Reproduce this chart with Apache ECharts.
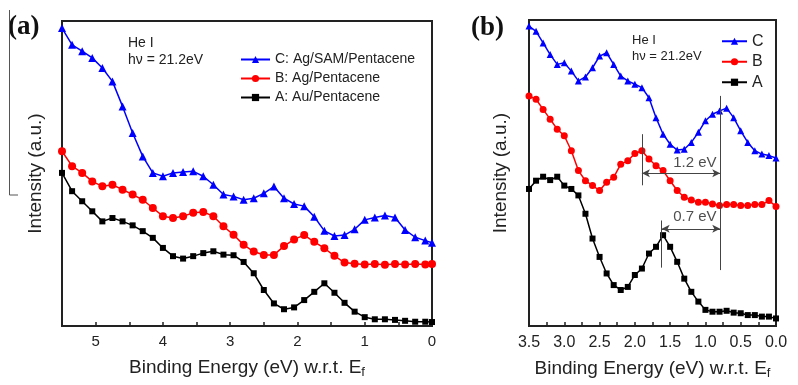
<!DOCTYPE html>
<html>
<head>
<meta charset="utf-8">
<script src="https://cdn.jsdelivr.net/npm/echarts@6/dist/echarts.min.js"></script>
<style>
  html, body { margin: 0; padding: 0; background: #fff; }
  #chart { width: 798px; height: 385px; }
</style>
</head>
<body>
<div id="chart"></div>
<script>
// panel (a): binding energy grid (eV) and the three spectra (a.u.)
const energyA = [5.5, 5.35, 5.2, 5.05, 4.9, 4.75, 4.6, 4.45, 4.3, 4.15, 4.0, 3.85, 3.7, 3.55, 3.4, 3.25, 3.1, 2.95, 2.8, 2.65,
  2.5, 2.35, 2.2, 2.05, 1.9, 1.75, 1.6, 1.45, 1.3, 1.15, 1.0, 0.85, 0.7, 0.55, 0.4, 0.25, 0.1, 0.0];
const specCA = [97.7, 92.2, 90.1, 87.9, 84.6, 80.2, 72.0, 63.3, 55.6, 50.2, 49.1, 50.2, 50.5, 50.7, 49.1, 46.3, 43.1, 42.5, 41.4, 41.9,
  43.5, 45.7, 41.9, 40.0, 39.3, 35.8, 31.2, 29.5, 29.8, 31.7, 34.8, 35.6, 36.2, 35.6, 31.5, 29.1, 28.0, 27.3];
const specBA = [57.3, 52.4, 50.2, 47.4, 45.8, 46.3, 44.7, 43.1, 41.4, 38.7, 36.0, 35.4, 36.0, 37.1, 37.4, 36.0, 32.7, 29.9, 26.6, 24.4,
  23.3, 23.3, 26.2, 28.4, 29.8, 27.6, 25.5, 23.0, 20.8, 20.4, 20.2, 20.3, 20.1, 20.3, 20.2, 20.3, 20.2, 20.3];
const specAA = [50.2, 44.2, 40.9, 37.6, 34.3, 35.4, 34.3, 33.0, 31.1, 28.9, 25.6, 22.9, 22.1, 22.9, 23.9, 24.5, 23.4, 23.2, 21.0, 17.3,
  11.8, 7.4, 5.5, 6.1, 8.5, 11.2, 14.0, 10.9, 7.6, 4.7, 2.9, 2.2, 2.2, 2.0, 1.7, 1.4, 1.4, 1.3];

// panel (b): zoom near the Fermi level
const energyB = [3.5, 3.4, 3.3, 3.2, 3.1, 3.0, 2.9, 2.8, 2.7, 2.6, 2.5, 2.4, 2.3, 2.2, 2.1, 2.0, 1.9, 1.8, 1.7, 1.6,
  1.5, 1.4, 1.3, 1.2, 1.1, 1.0, 0.9, 0.8, 0.7, 0.6, 0.5, 0.4, 0.3, 0.2, 0.1, 0.0];
const specCB = [98.0, 96.3, 92.5, 88.7, 85.5, 86.0, 83.3, 80.1, 81.4, 84.4, 88.2, 89.3, 85.5, 81.7, 80.1, 79.0, 77.9, 74.6, 68.1, 62.7,
  59.4, 57.5, 57.8, 60.0, 63.3, 67.1, 69.2, 70.3, 71.2, 68.1, 63.8, 60.0, 57.3, 56.2, 55.7, 54.9];
const specBB = [75.2, 74.1, 70.8, 67.6, 64.3, 62.2, 57.3, 50.8, 47.5, 45.9, 44.3, 47.0, 48.6, 52.9, 54.0, 56.4, 57.3, 54.6, 52.4, 50.8,
  47.5, 44.3, 42.1, 41.2, 40.5, 40.5, 39.9, 39.4, 39.7, 39.7, 39.4, 39.4, 39.7, 39.7, 41.0, 39.1];
const specAB = [44.8, 47.5, 48.8, 47.7, 48.8, 45.9, 44.8, 42.7, 36.7, 28.6, 22.6, 17.2, 13.4, 11.8, 12.8, 16.7, 18.8, 23.7, 25.9, 29.7,
  25.9, 21.0, 15.5, 11.2, 8.0, 5.3, 4.7, 4.7, 5.0, 4.4, 4.2, 3.6, 3.6, 3.1, 3.1, 2.5];

// peak markers in (b): [energy, top, bottom]
const peakLines = [[1.9, 62.7, 46.0], [0.79, 75.2, 18.3], [1.62, 34.5, 19.1]];
// shift arrows: [from, to, level]
const shiftArrows = [[1.9, 0.79, 49.9], [1.62, 0.79, 31.8]];
const shiftLabels = ['1.2 eV', '0.7 eV'];
const shiftLabelPos = [[1.15, 53.3], [1.15, 35.6]];

const FONT = 'Liberation Sans';
const INK = '#222';

const pairs = (xs, ys) => xs.map((x, i) => [x, ys[i]]);

function spectrum(name, xs, ys, axis, color, symbol, size) {
  return {
    name,
    type: 'line',
    xAxisIndex: axis,
    yAxisIndex: axis,
    data: pairs(xs, ys),
    symbol,
    symbolSize: size,
    showAllSymbol: true,
    itemStyle: { color },
    lineStyle: { color, width: 1.5 },
    z: 3
  };
}

function energyAxis(idx, max, interval, fmt, fontSize) {
  return {
    type: 'value',
    gridIndex: idx,
    inverse: true,
    min: 0,
    max,
    interval,
    name: '{m|Binding Energy (eV) w.r.t. E}{s|f}',
    nameLocation: 'middle',
    nameGap: 27,
    nameTextStyle: {
      rich: {
        m: { fontFamily: FONT, fontSize: 19, color: INK, lineHeight: 22 },
        s: { fontFamily: FONT, fontSize: 13, color: INK, lineHeight: 22, padding: [12, 0, 0, 0], verticalAlign: 'bottom' }
      }
    },
    axisLine: { show: true, lineStyle: { color: INK, width: 2 } },
    axisTick: { show: true, inside: true, length: 4, lineStyle: { color: INK, width: 1.5 } },
    axisLabel: { margin: 8, fontFamily: FONT, fontSize, color: INK, formatter: fmt, showMinLabel: true, showMaxLabel: true },
    splitLine: { show: false }
  };
}

function intensityAxis(idx, gap) {
  return {
    type: 'value',
    gridIndex: idx,
    min: 0,
    max: 100,
    name: 'Intensity (a.u.)',
    nameLocation: 'middle',
    nameGap: gap,
    nameTextStyle: { fontFamily: FONT, fontSize: 19, color: INK },
    axisLine: { show: false },
    axisTick: { show: false },
    axisLabel: { show: false },
    splitLine: { show: false }
  };
}

const option = {
  animation: false,
  backgroundColor: '#fff',
  grid: [
    { left: 62, top: 21, width: 370, height: 305, show: true, borderColor: INK, borderWidth: 2 },
    { left: 529, top: 20, width: 247, height: 307, show: true, borderColor: INK, borderWidth: 2 }
  ],
  xAxis: [
    energyAxis(0, 5.5, 0.5, v => (Number.isInteger(v) ? String(v) : ''), 15),
    energyAxis(1, 3.5, 0.25, v => ((v * 2) % 1 === 0 ? v.toFixed(1) : ''), 16)
  ],
  yAxis: [intensityAxis(0, 17), intensityAxis(1, 19)],
  legend: [
    {
      left: 235, top: 45, orient: 'vertical',
      itemWidth: 29, itemHeight: 9, itemGap: 0,
      textStyle: { fontFamily: FONT, fontSize: 14, color: INK, lineHeight: 19 },
      data: ['C: Ag/SAM/Pentacene', 'B: Ag/Pentacene', 'A: Au/Pentacene']
    },
    {
      left: 716, top: 26, orient: 'vertical',
      itemWidth: 25, itemHeight: 9, itemGap: 0,
      textStyle: { fontFamily: FONT, fontSize: 16, color: INK, lineHeight: 20.5 },
      data: ['C', 'B', 'A']
    }
  ],
  graphic: [
    { type: 'text', left: 8, top: 14, style: { text: '(a)', font: 'bold 27px "Liberation Serif"', fill: '#111' } },
    { type: 'text', left: 471, top: 15, style: { text: '(b)', font: 'bold 27px "Liberation Serif"', fill: '#111' } },
    { type: 'text', left: 128, top: 35, style: { text: 'He I\nhν = 21.2eV', font: '14px "Liberation Sans"', fill: INK, lineHeight: 17 } },
    { type: 'text', left: 632, top: 32, style: { text: 'He I\nhν = 21.2eV', font: '13px "Liberation Sans"', fill: INK, lineHeight: 16 } },
    { type: 'line', shape: { x1: 9.5, y1: 10, x2: 9.5, y2: 195 }, style: { stroke: '#555', lineWidth: 1 } },
    { type: 'line', shape: { x1: 9.5, y1: 195, x2: 18, y2: 195 }, style: { stroke: '#555', lineWidth: 1 } }
  ],
  series: [
    spectrum('A: Au/Pentacene', energyA, specAA, 0, '#000', 'rect', 6),
    spectrum('B: Ag/Pentacene', energyA, specBA, 0, '#ff0000', 'circle', 8),
    spectrum('C: Ag/SAM/Pentacene', energyA, specCA, 0, '#0000ff', 'triangle', 8),
    spectrum('A', energyB, specAB, 1, '#000', 'rect', 6),
    spectrum('B', energyB, specBB, 1, '#ff0000', 'circle', 7),
    spectrum('C', energyB, specCB, 1, '#0000ff', 'triangle', 7),
    {
      type: 'scatter',
      xAxisIndex: 1,
      yAxisIndex: 1,
      data: shiftLabelPos,
      symbolSize: 0,
      silent: true,
      label: {
        show: true, position: 'inside', fontFamily: FONT, fontSize: 15, color: INK,
        formatter: p => shiftLabels[p.dataIndex]
      },
      markLine: {
        silent: true,
        symbol: ['none', 'none'],
        label: { show: false },
        lineStyle: { color: '#444', width: 1, type: 'solid' },
        data: peakLines.map(([e, top, bot]) => [{ coord: [e, top] }, { coord: [e, bot] }])
          .concat(shiftArrows.map(([a, b, lvl]) => [
            { coord: [a, lvl], symbol: 'arrow', symbolSize: [6, 8] },
            { coord: [b, lvl], symbol: 'arrow', symbolSize: [6, 8] }
          ]))
      }
    }
  ]
};

const chart = echarts.init(document.getElementById('chart'));
chart.setOption(option);
</script>
</body>
</html>
